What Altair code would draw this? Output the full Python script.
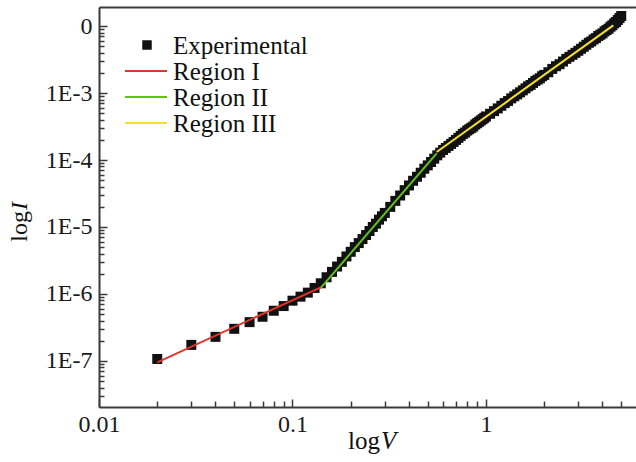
import altair as alt
import pandas as pd

FONT = "Liberation Serif"
AX = "#3a3a3a"

V_exp = [0.02, 0.03, 0.04, 0.05, 0.06, 0.07, 0.08, 0.09, 0.10, 0.11,
         0.12, 0.13, 0.14, 0.15, 0.16, 0.17, 0.18, 0.19, 0.20, 0.21,
         0.22, 0.23, 0.24, 0.25, 0.26, 0.27, 0.28, 0.29, 0.30,
         0.32, 0.34, 0.36, 0.38, 0.40, 0.42, 0.44, 0.46, 0.48, 0.50,
         0.52, 0.54, 0.56, 0.58, 0.60,
         0.62, 0.64, 0.66, 0.68, 0.70, 0.72, 0.74, 0.76, 0.78, 0.80,
         0.82, 0.84, 0.86, 0.88, 0.90, 0.92, 0.94, 0.96, 0.98, 1.00,
         1.05, 1.10, 1.15, 1.20, 1.25, 1.30, 1.35, 1.40, 1.45, 1.50,
         1.55, 1.60, 1.65, 1.70, 1.75, 1.80, 1.85, 1.90, 1.95, 2.00,
         2.1, 2.2, 2.3, 2.4, 2.5, 2.6, 2.7, 2.8, 2.9, 3.0,
         3.1, 3.2, 3.3, 3.4, 3.5, 3.6, 3.7, 3.8, 3.9, 4.0,
         4.1, 4.2, 4.3, 4.4, 4.5, 4.6, 4.7, 4.8, 4.9, 5.0]
lgI_exp = [-6.97, -6.76, -6.64, -6.52, -6.42, -6.34, -6.25, -6.18, -6.10, -6.04,
           -5.98, -5.91, -5.84, -5.75, -5.67, -5.59, -5.52, -5.44, -5.37, -5.30,
           -5.24, -5.18, -5.12, -5.06, -5.00, -4.95, -4.89, -4.84, -4.79,
           -4.70, -4.61, -4.53, -4.45, -4.38, -4.31, -4.25, -4.19, -4.13, -4.08,
           -4.03, -3.98, -3.93, -3.89, -3.85,
           -3.82, -3.79, -3.76, -3.73, -3.70, -3.67, -3.64, -3.61, -3.59, -3.56,
           -3.54, -3.52, -3.50, -3.47, -3.45, -3.43, -3.41, -3.39, -3.37, -3.35,
           -3.31, -3.27, -3.23, -3.19, -3.15, -3.12, -3.08, -3.05, -3.02, -2.99,
           -2.96, -2.93, -2.90, -2.88, -2.85, -2.82, -2.80, -2.78, -2.75, -2.73,
           -2.69, -2.64, -2.60, -2.57, -2.53, -2.49, -2.46, -2.43, -2.40, -2.37,
           -2.34, -2.31, -2.28, -2.25, -2.23, -2.20, -2.18, -2.15, -2.13, -2.11,
           -2.08, -2.06, -2.04, -2.01, -1.99, -1.96, -1.94, -1.91, -1.88, -1.85]
assert len(V_exp) == len(lgI_exp)

# ---- fitted lines (end points) ----
fit_names = ["Region I", "Region II", "Region III"]
fit_colors = ["#e0352b", "#62c21a", "#f6df2c"]
fit_V = [[0.02, 0.14], [0.14, 0.556], [0.556, 4.55]]
fit_lgI = [[-7.02, -5.90], [-5.91, -3.90], [-3.88, -1.99]]

legend_labels = ["Experimental", "Region I", "Region II", "Region III"]

# ---- axis tick values ----
x_major = [0.01, 0.1, 1]
x_minor = [0.02, 0.03, 0.04, 0.05, 0.06, 0.07, 0.08, 0.09,
           0.2, 0.3, 0.4, 0.5, 0.6, 0.7, 0.8, 0.9, 2, 3, 4, 5]
y_major = [1e-2, 1e-3, 1e-4, 1e-5, 1e-6, 1e-7]
y_minor = [k * 10.0 ** e for e in range(-3, -9, -1) for k in range(2, 10)
           if 2.1e-8 < k * 10.0 ** e < 0.019]

W, H = 537, 400
x_scale = alt.Scale(type="log", domain=[0.01, 5.96], nice=False)
y_scale = alt.Scale(type="log", domain=[2.056e-8, 0.01923], nice=False)

lab = dict(labelFont=FONT, labelFontSize=24, labelColor="#1a1a1a",
           labelFlush=False, labelOverlap=False, grid=False, title=None)

ax_x_main = alt.Axis(values=x_major, format="~g", ticks=False, tickSize=0,
                     labelPadding=5, domainColor=AX, domainWidth=2, **lab)
ax_y_main = alt.Axis(values=y_major,
                     labelExpr="datum.value > 0.005 ? '0' : '1E-' + round(-log(datum.value)/LN10)",
                     ticks=False, tickSize=0, labelPadding=7,
                     domainColor=AX, domainWidth=2, **lab)

def tick_axis(orient, offset, values, size):
    return alt.Axis(orient=orient, offset=offset, values=values, labels=False,
                    domain=False, ticks=True, tickSize=size, tickWidth=1.5,
                    tickColor=AX, grid=False, title=None)

ax_x_maj_in = tick_axis("top", -H, x_major, 8)
ax_y_maj_in = tick_axis("right", -W, y_major, 8)
ax_x_min_in = tick_axis("top", -H, x_minor, 6)
ax_y_min_in = tick_axis("right", -W, y_minor, 5)
ax_x_top = alt.Axis(orient="top", labels=False, ticks=False, domain=True,
                    domainColor=AX, domainWidth=2, grid=False, title=None)

exp_df = pd.DataFrame({"V": V_exp, "lg": lgI_exp})
exp_layer = (alt.Chart(exp_df)
             .transform_calculate(I="pow(10, datum.lg)")
             .mark_square(size=100, color="#111111", opacity=1)
             .encode(x=alt.X("V:Q", scale=x_scale, axis=ax_x_main),
                     y=alt.Y("I:Q", scale=y_scale, axis=ax_y_main)))

rows = []
for name, vs, ls in zip(fit_names, fit_V, fit_lgI):
    for v, l in zip(vs, ls):
        rows.append({"region": name, "V": v, "lg": l})
fit_df = pd.DataFrame(rows)

fit_axes = [(ax_x_maj_in, ax_y_maj_in), (ax_x_min_in, ax_y_min_in), (ax_x_top, None)]
fit_layers = []
for name, col, (axx, axy) in zip(fit_names, fit_colors, fit_axes):
    fit_layers.append(
        alt.Chart(fit_df)
        .transform_filter(alt.datum.region == name)
        .transform_calculate(I="pow(10, datum.lg)")
        .mark_line(color=col, strokeWidth=2)
        .encode(x=alt.X("V:Q", scale=x_scale, axis=axx),
                y=alt.Y("I:Q", scale=y_scale, axis=axy)))

# ---- legend (inside plot, top-left) ----
leg_layers = []
row_y = [38, 64, 90, 116]
one = pd.DataFrame({"k": [0]})
leg_layers.append(alt.Chart(one).mark_square(size=90, color="#111111", opacity=1)
                  .encode(x=alt.value(48), y=alt.value(row_y[0])))
for i, (name, col) in enumerate(zip(fit_names, fit_colors)):
    leg_layers.append(alt.Chart(one).mark_rule(color=col, strokeWidth=2)
                      .encode(x=alt.value(26), x2=alt.value(68), y=alt.value(row_y[i + 1])))
for i, lbl in enumerate(legend_labels):
    leg_layers.append(alt.Chart(pd.DataFrame({"label": [lbl]}))
                      .mark_text(font=FONT, fontSize=25, align="left", baseline="alphabetic", color="#111111")
                      .encode(text="label:N", x=alt.value(74), y=alt.value(row_y[i] + 8.5)))

# ---- axis titles with italic variable ----
ttl = []
ttl.append(alt.Chart(one).mark_text(text="log", font=FONT, fontSize=25, align="right",
                                    baseline="alphabetic", color="#111111")
           .encode(x=alt.value(281), y=alt.value(442)))
ttl.append(alt.Chart(one).mark_text(text="V", font=FONT, fontSize=25, fontStyle="italic",
                                    align="left", baseline="alphabetic", color="#111111")
           .encode(x=alt.value(282), y=alt.value(442)))
ttl.append(alt.Chart(one).mark_text(text="log", font=FONT, fontSize=24, angle=270, align="right",
                                    baseline="alphabetic", color="#111111")
           .encode(x=alt.value(-72), y=alt.value(204)))
ttl.append(alt.Chart(one).mark_text(text="I", font=FONT, fontSize=24, fontStyle="italic", angle=270,
                                    align="left", baseline="alphabetic", color="#111111")
           .encode(x=alt.value(-72), y=alt.value(203)))

chart = (alt.layer(exp_layer, *fit_layers, *leg_layers, *ttl)
         .resolve_axis(x="independent", y="independent")
         .properties(width=W, height=H,
                     autosize=alt.AutoSizeParams(type="none"),
                     padding={"left": 99, "top": 7, "right": 0, "bottom": 55},
                     background="white")
         .configure_view(stroke=None))

chart.save("out.html", embed_options={"renderer": "svg", "actions": False})
